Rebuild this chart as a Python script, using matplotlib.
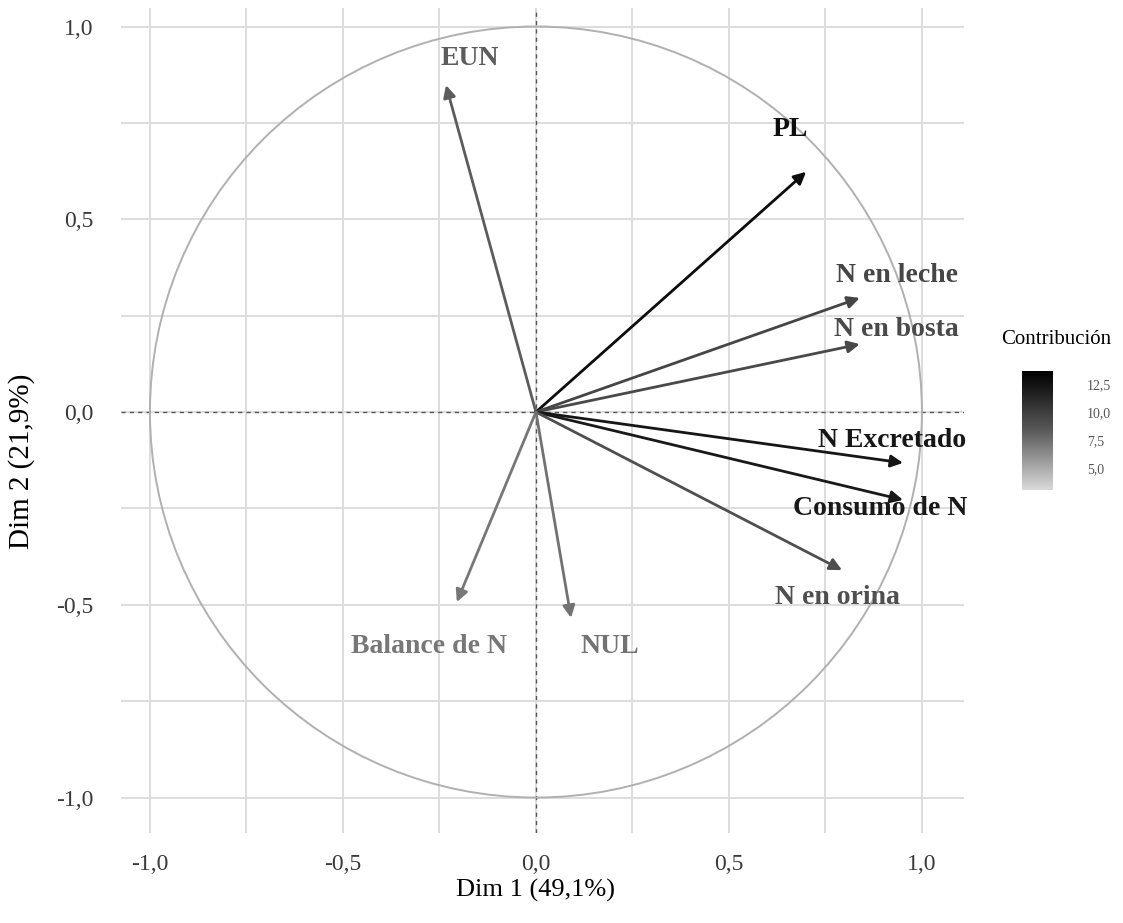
import numpy as np
import matplotlib
matplotlib.use("Agg")
import matplotlib.pyplot as plt
from matplotlib.colors import LinearSegmentedColormap, Normalize
from matplotlib.patches import Circle

plt.rcParams['font.family'] = ['Liberation Serif', 'DejaVu Serif']

# Variable coordinates on the first two principal dimensions
variables = ["EUN", "PL", "N en leche", "N en bosta", "N Excretado",
             "Consumo de N", "N en orina", "Balance de N", "NUL"]
dim1 = [-0.233, 0.700, 0.839, 0.839, 0.951, 0.951, 0.793, -0.205, 0.091]
dim2 = [0.848, 0.623, 0.296, 0.176, -0.132, -0.228, -0.410, -0.493, -0.534]
contrib = [8.3, 12.9, 9.6, 9.4, 12.4, 12.2, 9.0, 7.2, 7.4]

# Label anchor positions (data units)
label_x = [-0.171, 0.658, 0.935, 0.933, 0.922, 0.891, 0.782, -0.277, 0.192]
label_y = [0.918, 0.734, 0.355, 0.213, -0.075, -0.250, -0.482, -0.607, -0.607]

cbar_limits = (3.04, 13.7)
cbar_ticks = [5.0, 7.5, 10.0, 12.5]

xlabel = "Dim 1 (49,1%)"
ylabel = "Dim 2 (21,9%)"
ticks = [-1.0, -0.5, 0.0, 0.5, 1.0]

def fmt(v):
    return f"{v:.1f}".replace(".", ",")

W, H = 1123, 923
fig = plt.figure(figsize=(W / 100, H / 100), dpi=100)
ax = fig.add_axes([121 / W, 1 - 833 / H, (964 - 121) / W, (833 - 8) / H])

ax.set_xlim(-1.075, 1.109)
ax.set_ylim(-1.092, 1.048)

cmap = LinearSegmentedColormap.from_list(
    "contrib", [(0.0, "#dadada"), (0.5, "#5a5a5a"), (1.0, "#000000")])
norm = Normalize(*cbar_limits)

# grid
for v in np.arange(-1.0, 1.01, 0.25):
    ax.axvline(v, color="#dddddd", lw=1.4, zorder=0)
    ax.axhline(v, color="#dddddd", lw=1.4, zorder=0)

ax.axhline(0, color="#555555", lw=1.0, ls=(0, (3, 3)), zorder=1)
ax.axvline(0, color="#555555", lw=1.0, ls=(0, (3, 3)), zorder=1)

ax.add_patch(Circle((0, 0), 1.0, fill=False, ec="#b0b0b0", lw=1.4, zorder=2))

for name, x, y, c, lx, ly in zip(variables, dim1, dim2, contrib, label_x, label_y):
    col = cmap(norm(c))
    ax.annotate("", xy=(x, y), xytext=(0, 0),
                arrowprops=dict(arrowstyle="-|>", mutation_scale=18, lw=2.0,
                                color=col, shrinkA=0, shrinkB=0), zorder=3)
    ax.text(lx, ly, name, ha="center", va="center", fontsize=20,
            fontweight="bold", color=col, zorder=4)

for s in ax.spines.values():
    s.set_visible(False)
ax.set_xticks(ticks)
ax.set_yticks(ticks)
ax.set_xticklabels([fmt(t) for t in ticks], fontsize=17, color="#3a3a3a")
ax.set_yticklabels([fmt(t) for t in ticks], fontsize=17, color="#3a3a3a")
ax.tick_params(length=0, pad=0)
ax.tick_params(axis="x", pad=15)
ax.tick_params(axis="y", pad=20)

fig.text(536 / W, 1 - 890 / H, xlabel, ha="center", va="center", fontsize=19)
fig.text(22 / W, 1 - 461 / H, ylabel, ha="center", va="center", fontsize=21,
         rotation=90)

# colour bar
cax = fig.add_axes([1022 / W, 1 - 490 / H, 30 / W, 119 / H])
grad = np.linspace(cbar_limits[0], cbar_limits[1], 256).reshape(-1, 1)
cax.imshow(grad, aspect="auto", cmap=cmap, norm=norm, origin="lower",
           extent=[0, 1, cbar_limits[0], cbar_limits[1]])
cax.set_xticks([])
cax.yaxis.tick_right()
cax.set_yticks(cbar_ticks)
cax.set_yticklabels([fmt(t) for t in cbar_ticks], fontsize=10, color="#555555")
cax.tick_params(length=0, pad=25)
for s in cax.spines.values():
    s.set_visible(False)
fig.text(1056 / W, 1 - 340 / H, "Contribución", ha="center", va="center",
         fontsize=15)

fig.savefig("out.png", dpi=100)
